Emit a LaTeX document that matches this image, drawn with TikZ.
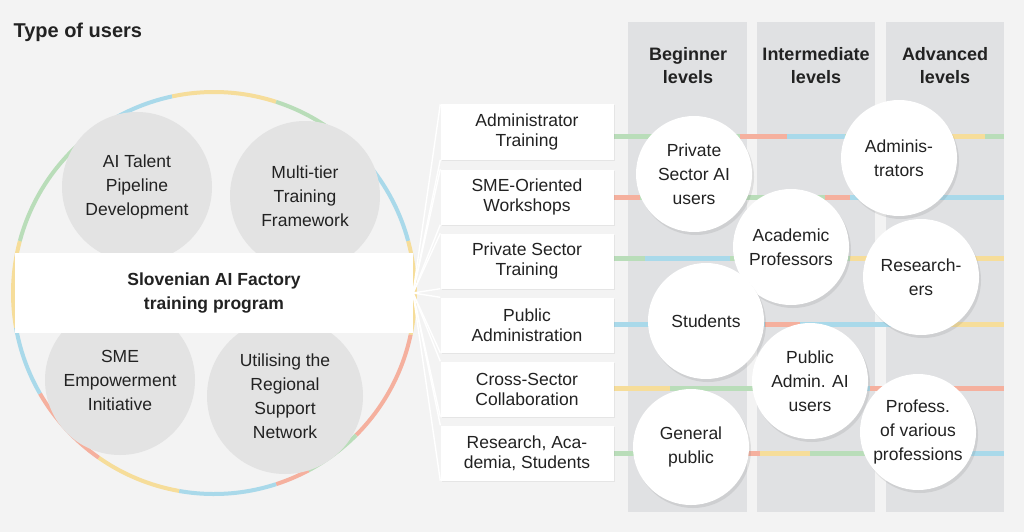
\documentclass[tikz,border=0pt]{standalone}
\usepackage{fontspec}
\setmainfont{Liberation Sans}
\usetikzlibrary{shadows,calc}
\definecolor{bgc}{HTML}{F3F3F3}
\definecolor{colc}{HTML}{E0E1E3}
\definecolor{gc}{HTML}{E3E3E3}
\definecolor{sg}{HTML}{B9DDB9}
\definecolor{sr}{HTML}{F5B09E}
\definecolor{sb}{HTML}{A9D9EA}
\definecolor{sy}{HTML}{F6DD9A}
\definecolor{txt}{HTML}{222222}
\tikzset{
  greyc/.style={circle,fill=gc,minimum size=150pt,align=center,font=\fontsize{17.5}{24}\selectfont,text=txt,inner sep=0pt},
  tbox/.style={rectangle,fill=white,minimum width=173pt,minimum height=55pt,align=center,font=\fontsize{17.5}{20}\selectfont,text=txt,inner sep=0pt,drop shadow={opacity=0.12,shadow xshift=1pt,shadow yshift=-1pt}},
  ucirc/.style={circle,fill=white,minimum size=116pt,align=center,font=\fontsize{17.5}{24}\selectfont,text=txt,inner sep=0pt,drop shadow={opacity=0.18,shadow xshift=2pt,shadow yshift=-3pt}},
  colbg/.style={fill=colc},
  hdr/.style={align=center,font=\bfseries\fontsize{18}{23}\selectfont,text=txt},
  fan/.style={white,line width=1.4pt},
  stripe/.style={line width=5pt}
}
\begin{document}
\begin{tikzpicture}[x=1pt,y=-1pt]
\fill[bgc] (0,0) rectangle (1024,532);
\useasboundingbox (0,0) rectangle (1024,532);
\node[anchor=west,font=\bfseries\fontsize{20}{22}\selectfont,text=txt] (title) at (10,32) {Type of users};
% columns
\fill[colbg] (628,22) rectangle (747,512);
\fill[colbg] (757,22) rectangle (875,512);
\fill[colbg] (886,22) rectangle (1004,512);
\node[hdr] (h1) at (688,66) {Beginner\\levels};
\node[hdr] (h2) at (816,66) {Intermediate\\levels};
\node[hdr] (h3) at (945,66) {Advanced\\levels};
% stripes
\foreach \y/\segs in {136/{613/sg/740,740/sr/787,787/sb/845,845/sg/950,950/sy/985,985/sg/1004},
                      197/{613/sr/640,640/sg/760,760/sg/825,825/sr/850,850/sb/1004},
                      258/{613/sg/645,645/sb/730,730/sg/850,850/sy/1004},
                      324/{613/sb/650,650/sb/765,765/sr/800,800/sb/950,950/sy/1004},
                      388/{613/sy/670,670/sg/755,755/sb/870,870/sr/1004},
                      453/{613/sg/745,745/sr/760,760/sy/810,810/sg/870,870/sb/1004}}{
  \foreach \a/\c/\b in \segs {\draw[stripe,\c] (\a,\y) -- (\b,\y);}
}
% ring
\coordinate (rc) at (214,293);
\foreach \s/\e/\c in {0/12/sy,12/45/sr,45/62/sg,62/72/sr,72/100/sb,100/125/sy,125/150/sr,150/170/sb,170/195/sy,195/228/sg,228/240/sr,240/258/sb,258/288/sy,288/320/sg,320/345/sb,345/360/sy}{
  \draw[line width=4pt,\c] ($(rc)+(\s:201)$) arc[start angle=\s,end angle=\e,radius=201];
}
\node[greyc] (g1) at (137,187) {AI Talent\\Pipeline\\Development};
\node[greyc] (g2) at (305,196) {Multi-tier\\Training\\Framework};
\node[greyc] (g3) at (120,380) {SME\\Empowerment\\Initiative};
\node[greyc,minimum size=156pt] (g4) at (285,396) {Utilising the\\Regional\\Support\\Network};
\node[fill=white,minimum width=398pt,minimum height=80pt,align=center,font=\bfseries\fontsize{17.5}{24}\selectfont,text=txt] (band) at (214,293) {Slovenian AI Factory\\training program};
% boxes
\node[tbox] (b1) at (527,132) {Administrator\\Training};
\node[tbox] (b2) at (527,197) {SME-Oriented\\Workshops};
\node[tbox] (b3) at (527,261) {Private Sector\\Training};
\node[tbox] (b4) at (527,325) {Public\\Administration};
\node[tbox] (b5) at (527,389) {Cross-Sector\\Collaboration};
\node[tbox] (b6) at (527,453) {Research, Aca-\\demia, Students};
\coordinate (fo) at (413,293);
\foreach \b in {b1,b2,b3,b4,b5,b6}{\draw[fan] (fo) -- (\b.north west); \draw[fan] (fo) -- (\b.south west);}
% user circles
\node[ucirc] (u1) at (694,174) {Private\\Sector AI\\users};
\node[ucirc] (u2) at (791,247) {Academic\\Professors};
\node[ucirc] (u3) at (706,321) {Students};
\node[ucirc] (u4) at (810,381) {Public\\Admin. AI\\users};
\node[ucirc] (u5) at (691,447) {General\\public};
\node[ucirc] (u6) at (899,158) {Adminis-\\trators};
\node[ucirc] (u7) at (921,277) {Research-\\ers};
\node[ucirc] (u8) at (918,432) {Profess.\\of various\\professions};
\end{tikzpicture}
\end{document}
